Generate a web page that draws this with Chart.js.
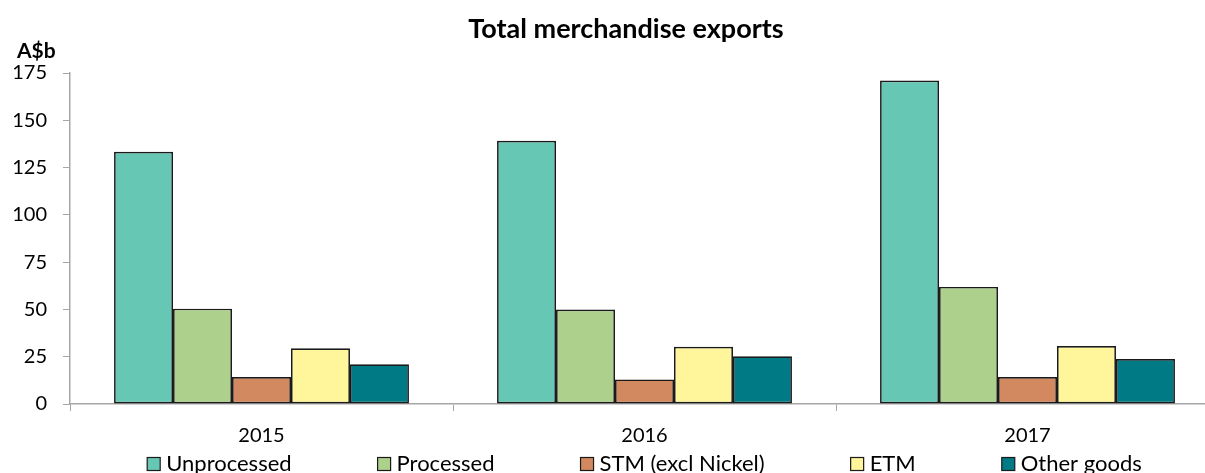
<!DOCTYPE html>
<html>
<head>
<meta charset="utf-8">
<script src="https://cdn.jsdelivr.net/npm/chart.js@4.4.1/dist/chart.umd.min.js"></script>
<style>
  html, body { margin: 0; padding: 0; background: #ffffff; overflow: hidden; }
  #wrap { position: relative; width: 1252px; height: 473px; }
</style>
</head>
<body>
<div id="wrap"><canvas id="c"></canvas></div>
<script>
const chartTitle = "Total merchandise exports";
const unitLabel = "A$b";
const categories = ["2015", "2016", "2017"];
const seriesNames = ["Unprocessed", "Processed", "STM (excl Nickel)", "ETM", "Other goods"];
const unprocessed = [133.3, 139.2, 171.0];
const processed = [50.4, 49.9, 61.9];
const stm = [14.3, 13.0, 14.3];
const etm = [29.5, 30.3, 30.7];
const otherGoods = [21.0, 25.2, 23.8];
const seriesColors = ["#66C7B4", "#ADD08C", "#D3895F", "#FFF59B", "#007A85"];
const yTicks = [0, 25, 50, 75, 100, 125, 150, 175];

const FONT = "Lato, 'Open Sans', sans-serif";
const seriesValues = [unprocessed, processed, stm, etm, otherGoods];

const datasets = seriesNames.map((name, i) => ({
  label: name,
  data: seriesValues[i],
  backgroundColor: seriesColors[i],
  borderColor: "#1a1a1a",
  borderWidth: 1.7,
  borderSkipped: false,
  barPercentage: 1.0,
  categoryPercentage: 0.77
}));

const extras = {
  id: "extras",
  afterDraw(chart) {
    const ctx = chart.ctx;
    const ca = chart.chartArea;
    ctx.save();
    // unit label
    ctx.font = "bold 21px " + FONT;
    ctx.fillStyle = "#000";
    ctx.textAlign = "left";
    ctx.textBaseline = "middle";
    ctx.fillText(unitLabel, ca.left - 53, ca.top - 22);
    // legend
    ctx.font = "22px " + FONT;
    const box = 13, boxGap = 6, itemGap = 86;
    const widths = chart.data.datasets.map(d => box + boxGap + ctx.measureText(d.label).width);
    const total = widths.reduce((a, b) => a + b, 0) + itemGap * (widths.length - 1);
    let x = (ca.left + ca.right) / 2 - total / 2;
    const yc = 464;
    chart.data.datasets.forEach((d, i) => {
      ctx.fillStyle = d.backgroundColor;
      ctx.fillRect(x, yc - box / 2, box, box);
      ctx.strokeStyle = "#1a1a1a";
      ctx.lineWidth = 1.2;
      ctx.strokeRect(x, yc - box / 2, box, box);
      ctx.fillStyle = "#000";
      ctx.fillText(d.label, x + box + boxGap, yc);
      x += widths[i] + itemGap;
    });
    ctx.restore();
  }
};

new Chart(document.getElementById("c"), {
  type: "bar",
  data: { labels: categories, datasets },
  plugins: [extras],
  options: {
    responsive: true,
    maintainAspectRatio: false,
    animation: false,
    layout: { padding: { left: 0, right: 0, top: 0, bottom: 25 } },
    plugins: {
      legend: { display: false },
      tooltip: { enabled: false },
      title: {
        display: true,
        text: chartTitle,
        color: "#000",
        font: { family: FONT, size: 27, weight: "bold" },
        padding: { top: 13, bottom: 27.6 }
      }
    },
    scales: {
      x: {
        offset: true,
        afterFit(scale) { scale.height = 44; },
        grid: { display: true, offset: true, drawOnChartArea: false, drawTicks: true, tickLength: 7, color: "#a6a6a6" },
        border: { display: true, color: "#a6a6a6", width: 1.5 },
        ticks: { color: "#000", padding: 13, font: { family: FONT, size: 20 } }
      },
      y: {
        min: 0,
        max: 175,
        afterBuildTicks(scale) { scale.ticks = yTicks.map(v => ({ value: v })); },
        afterFit(scale) { scale.width = 70; },
        grid: { display: true, drawOnChartArea: false, drawTicks: true, tickLength: 7, color: "#a6a6a6" },
        border: { display: true, color: "#a6a6a6", width: 1.5 },
        ticks: { color: "#000", padding: 16, font: { family: FONT, size: 20 } }
      },
      ySpacer: {
        position: "right",
        display: true,
        min: 0,
        max: 1,
        afterFit(scale) { scale.width = 33; },
        grid: { display: false },
        border: { display: false },
        ticks: { display: false }
      }
    }
  }
});
</script>
</body>
</html>
